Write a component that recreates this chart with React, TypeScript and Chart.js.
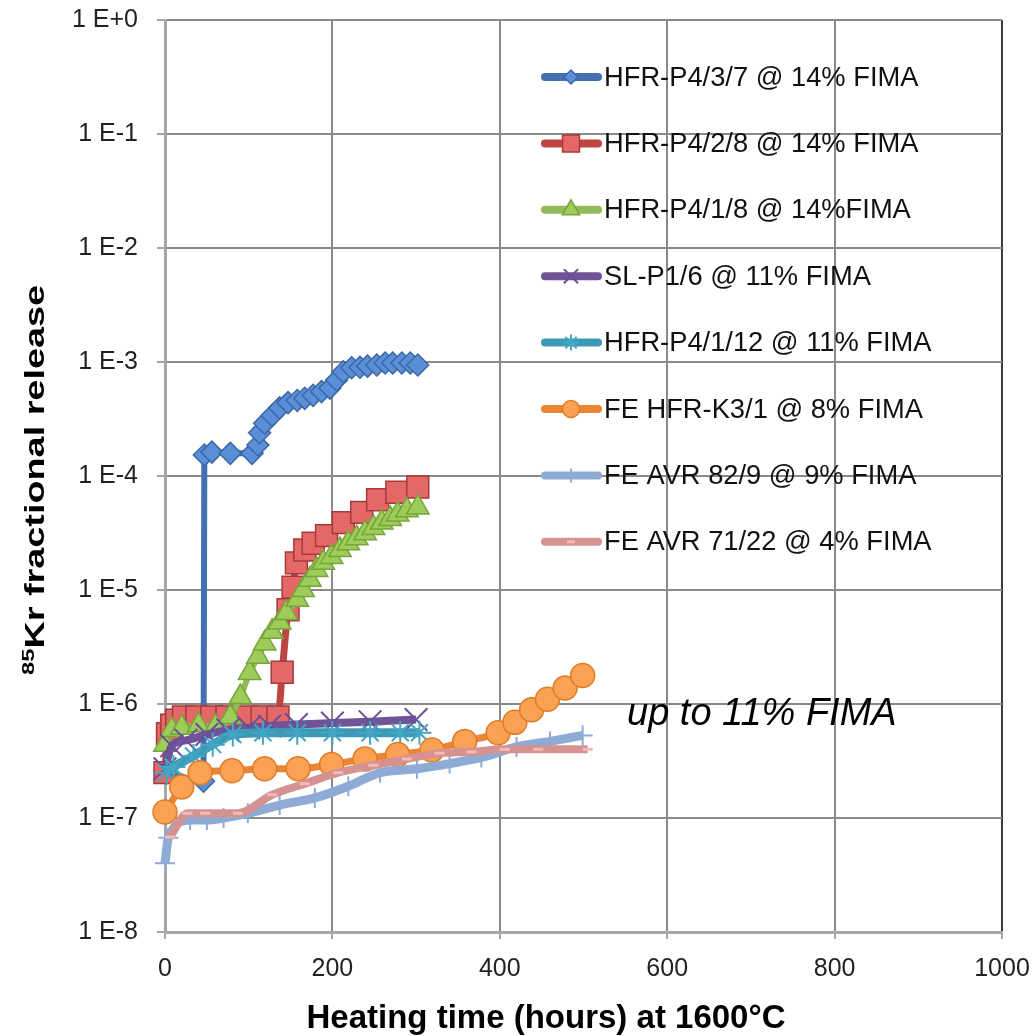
import React, { useEffect, useRef } from 'react';
import { Chart, registerables } from 'chart.js';
import { drawPoint } from 'chart.js/helpers';

Chart.register(...registerables);

const FONT = '"Liberation Sans", Arial, sans-serif';

// ---- Data (hours, fractional release) ----
const seriesLabels = [
  'HFR-P4/3/7 @ 14% FIMA',
  'HFR-P4/2/8 @ 14% FIMA',
  'HFR-P4/1/8 @ 14%FIMA',
  'SL-P1/6 @ 11% FIMA',
  'HFR-P4/1/12 @ 11% FIMA',
  'FE HFR-K3/1 @ 8% FIMA',
  'FE AVR 82/9 @ 9% FIMA',
  'FE AVR 71/22 @ 4% FIMA',
];

const blueX = [0, 46, 47, 56, 78, 104, 111, 113, 119, 128, 137, 147, 158, 167, 177, 187, 197, 205, 213, 223, 233, 242, 253, 263, 272, 283, 293, 302];
const blueY = [2.6e-7, 2.1e-7, 1.53e-4, 1.62e-4, 1.58e-4, 1.58e-4, 1.87e-4, 2.4e-4, 2.9e-4, 3.4e-4, 3.96e-4, 4.4e-4, 4.6e-4, 4.8e-4, 5.1e-4, 5.5e-4, 5.9e-4, 6.95e-4, 8.2e-4, 8.9e-4, 9.0e-4, 9.2e-4, 9.4e-4, 9.8e-4, 9.8e-4, 9.8e-4, 9.8e-4, 9.4e-4];

const redX = [0, 3, 8, 14, 22, 38, 56, 74, 98, 116, 135, 140, 147, 153, 157, 167, 177, 193, 213, 235, 254, 277, 302];
const redY = [2.5e-7, 5.5e-7, 6.5e-7, 7.2e-7, 7.7e-7, 7.7e-7, 7.7e-7, 7.7e-7, 7.7e-7, 7.7e-7, 7.7e-7, 1.9e-6, 6.7e-6, 1.06e-5, 1.73e-5, 2.24e-5, 2.57e-5, 3.0e-5, 3.9e-5, 4.8e-5, 6.2e-5, 7.2e-5, 8.0e-5];

const greenX = [0, 8, 20, 40, 60, 78, 90, 101, 111, 119, 128, 137, 145, 158, 165, 173, 181, 189, 199, 209, 219, 229, 239, 249, 259, 269, 278, 289, 302];
const greenY = [4.4e-7, 5.9e-7, 6.2e-7, 6.5e-7, 6.3e-7, 7.7e-7, 1.15e-6, 1.87e-6, 2.6e-6, 3.4e-6, 4.3e-6, 5.2e-6, 6.3e-6, 8.2e-6, 1.0e-5, 1.23e-5, 1.5e-5, 1.73e-5, 1.95e-5, 2.24e-5, 2.57e-5, 2.85e-5, 3.15e-5, 3.5e-5, 3.9e-5, 4.2e-5, 4.6e-5, 5.0e-5, 5.3e-5];

const purpleX = [0, 8, 25, 50, 75, 100, 125, 157, 200, 245, 300];
const purpleY = [2.7e-7, 4.3e-7, 4.8e-7, 5.4e-7, 5.9e-7, 6.2e-7, 6.4e-7, 6.6e-7, 6.8e-7, 7.0e-7, 7.3e-7];

const tealX = [2, 10, 34, 57, 81, 117, 158, 200, 245, 281, 304];
const tealY = [2.5e-7, 2.8e-7, 3.5e-7, 4.4e-7, 5.4e-7, 5.6e-7, 5.6e-7, 5.6e-7, 5.6e-7, 5.6e-7, 5.6e-7];

const orangeX = [0, 20, 42, 80, 119, 159, 199, 239, 278, 319, 358, 398, 418, 438, 457, 478, 499];
const orangeY = [1.13e-7, 1.87e-7, 2.5e-7, 2.6e-7, 2.7e-7, 2.7e-7, 2.95e-7, 3.3e-7, 3.6e-7, 3.95e-7, 4.7e-7, 5.6e-7, 6.9e-7, 8.9e-7, 1.1e-6, 1.38e-6, 1.78e-6];

const lightBlueX = [0, 4, 30, 50, 70, 99, 137, 179, 219, 257, 301, 340, 378, 420, 460, 499];
const lightBlueY = [4.0e-8, 6.7e-8, 9.6e-8, 9.6e-8, 1.0e-7, 1.1e-7, 1.3e-7, 1.5e-7, 1.9e-7, 2.5e-7, 2.7e-7, 3.0e-7, 3.4e-7, 4.2e-7, 4.7e-7, 5.3e-7];

const pinkX = [6, 27, 48, 87, 128, 167, 207, 249, 289, 328, 366, 406, 446, 505];
const pinkY = [6.8e-8, 1.1e-7, 1.1e-7, 1.1e-7, 1.6e-7, 2.0e-7, 2.5e-7, 2.9e-7, 3.3e-7, 3.7e-7, 3.8e-7, 4.0e-7, 4.0e-7, 4.0e-7];

const xTickValues = [0, 200, 400, 600, 800, 1000];
const xTickLabels = ['0', '200', '400', '600', '800', '1000'];
const yTickValues = [1e-8, 1e-7, 1e-6, 1e-5, 1e-4, 1e-3, 1e-2, 1e-1, 1];
const yTickLabels = ['1 E-8', '1 E-7', '1 E-6', '1 E-5', '1 E-4', '1 E-3', '1 E-2', '1 E-1', '1 E+0'];

const xTitle = 'Heating time (hours) at 1600°C';
const yTitleSup = '85';
const yTitleMain = 'Kr fractional release';
const annotationText = 'up to 11% FIMA';
const annotationAt = { x: 552, y: 6.5e-7 };

const seriesX = [blueX, redX, greenX, purpleX, tealX, orangeX, lightBlueX, pinkX];
const seriesY = [blueY, redY, greenY, purpleY, tealY, orangeY, lightBlueY, pinkY];

// ---- Styles ----
const STYLES = [
  { line: '#4470b0', width: 6, style: 'rectRot', r: 11, lr: 7, fill: '#5a8fd8', border: '#3c68a5', bw: 1.5 },
  { line: '#bd4542', width: 7, style: 'rect', r: 15.5, lr: 12, fill: '#e46966', border: '#a8393a', bw: 1.5 },
  { line: '#93b958', width: 6, style: 'triangle', r: 13, lr: 10, fill: '#9dcd58', border: '#78a33d', bw: 1.5 },
  { line: '#6f5497', width: 8, style: 'crossRot', r: 16, lr: 10, fill: '#6a4f98', border: '#6a4f98', bw: 2 },
  { line: '#3c9ab7', width: 9, style: 'star', r: 12, lr: 8, fill: '#41a7c4', border: '#41a7c4', bw: 2 },
  { line: '#ea8535', width: 7, style: 'circle', r: 12, lr: 8.5, fill: '#f9a253', border: '#e27b25', bw: 1.5 },
  { line: '#8eabd6', width: 9, style: 'cross', r: 10, lr: 7, fill: '#8eabd6', border: '#8eabd6', bw: 2 },
  { line: '#d69291', width: 8, style: 'line', r: 5, lr: 4, fill: '#f3b9b7', border: '#f3b9b7', bw: 3 },
];

const overlayPlugin = {
  id: 'overlay',
  afterDraw(chart: any) {
    const ctx: CanvasRenderingContext2D = chart.ctx;
    const xs = chart.scales.x;
    const ys = chart.scales.y;
    ctx.save();

    // legend
    STYLES.forEach((s, i) => {
      const y = 77 + 66.4 * i;
      ctx.strokeStyle = s.line;
      ctx.lineWidth = 8;
      ctx.lineCap = 'round';
      ctx.beginPath();
      ctx.moveTo(545, y);
      ctx.lineTo(598, y);
      ctx.stroke();
      ctx.lineCap = 'butt';
      ctx.fillStyle = s.fill;
      ctx.strokeStyle = s.border;
      ctx.lineWidth = s.bw;
      drawPoint(ctx, { pointStyle: s.style as any, radius: s.lr, rotation: 0, borderWidth: s.bw }, 571, y);
      ctx.fillStyle = '#111';
      ctx.font = `27.3px ${FONT}`;
      ctx.textAlign = 'left';
      ctx.textBaseline = 'middle';
      ctx.fillText(seriesLabels[i], 604, y + 1);
    });

    // annotation
    ctx.fillStyle = '#000';
    ctx.font = `italic 38px ${FONT}`;
    ctx.textAlign = 'left';
    ctx.textBaseline = 'alphabetic';
    ctx.fillText(annotationText, xs.getPixelForValue(annotationAt.x), ys.getPixelForValue(annotationAt.y));

    // x title
    ctx.font = `bold 33px ${FONT}`;
    ctx.textAlign = 'center';
    ctx.fillText(xTitle, 546, 1028);

    // y title (rotated)
    ctx.save();
    ctx.translate(44, 480);
    ctx.rotate(-Math.PI / 2);
    ctx.font = `bold 17px ${FONT}`;
    const w1 = ctx.measureText(yTitleSup).width;
    ctx.font = `bold 27px ${FONT}`;
    const w2 = ctx.measureText(yTitleMain).width;
    const sx = 390 / (w1 + w2);
    ctx.scale(sx, 1);
    const x0 = -(w1 + w2) / 2;
    ctx.textAlign = 'left';
    ctx.font = `bold 17px ${FONT}`;
    ctx.fillText(yTitleSup, x0, -10);
    ctx.font = `bold 27px ${FONT}`;
    ctx.fillText(yTitleMain, x0 + w1, 0);
    ctx.restore();

    ctx.restore();
  },
};

export default function App() {
  const ref = useRef<HTMLCanvasElement>(null);
  useEffect(() => {
    const datasets = seriesLabels.map((label, i) => {
      const s = STYLES[i];
      return {
        label,
        data: seriesX[i].map((x, j) => ({ x, y: seriesY[i][j] })),
        borderColor: s.line,
        backgroundColor: s.fill,
        borderWidth: s.width,
        pointStyle: s.style,
        pointRadius: s.r,
        pointBackgroundColor: s.fill,
        pointBorderColor: s.border,
        pointBorderWidth: s.bw,
        cubicInterpolationMode: 'monotone',
        fill: false,
        clip: false,
        order: seriesLabels.length - i,
      };
    });
    const chart = new Chart(ref.current!, {
      type: 'line',
      data: { datasets } as any,
      plugins: [overlayPlugin],
      options: {
        animation: false,
        responsive: false,
        maintainAspectRatio: false,
        layout: { padding: { top: 20, right: 34, left: 0, bottom: 0 } },
        plugins: { legend: { display: false }, tooltip: { enabled: false } },
        scales: {
          x: {
            type: 'linear',
            position: 'bottom',
            min: 0,
            max: 1000,
            afterBuildTicks: (s: any) => {
              s.ticks = xTickValues.map((v) => ({ value: v }));
            },
            afterFit: (s: any) => {
              s.height = 104;
              s.paddingLeft = 0;
              s.paddingRight = 0;
            },
            ticks: {
              font: { family: FONT, size: 25 },
              color: '#222',
              padding: 15,
              maxRotation: 0,
              autoSkip: false,
              callback: (v: any) => xTickLabels[xTickValues.indexOf(Number(v))] ?? '',
            },
            grid: {
              color: (c: any) => (c.tick && c.tick.value === 1000 ? '#3a3a3a' : c.tick && c.tick.value === 0 ? 'rgba(0,0,0,0)' : '#8a8a8a'),
              lineWidth: 2,
              tickLength: 7,
              tickColor: '#a6a6a6',
              tickWidth: 2,
            },
            border: { color: '#a6a6a6', width: 3 },
          },
          y: {
            type: 'logarithmic',
            position: 'left',
            min: 1e-8,
            max: 1,
            afterBuildTicks: (s: any) => {
              s.ticks = yTickValues.map((v) => ({ value: v }));
            },
            afterFit: (s: any) => {
              s.width = 165;
              s.paddingTop = 0;
              s.paddingBottom = 0;
            },
            ticks: {
              font: { family: FONT, size: 25 },
              color: '#222',
              padding: 19,
              autoSkip: false,
              callback: (v: any) => yTickLabels[yTickValues.indexOf(Number(v))] ?? '',
            },
            grid: {
              color: (c: any) => (c.tick && c.tick.value === 1e-8 ? 'rgba(0,0,0,0)' : '#8a8a8a'),
              lineWidth: 2,
              tickLength: 8,
              tickColor: '#a6a6a6',
              tickWidth: 2,
            },
            border: { color: '#a6a6a6', width: 3 },
          },
        },
      } as any,
    });
    return () => chart.destroy();
  }, []);
  return (
    <div style={{ position: 'fixed', left: 0, top: 0, width: 1036, height: 1036, background: '#fff' }}>
      <canvas ref={ref} width={1036} height={1036} style={{ display: 'block', width: 1036, height: 1036 }} />
    </div>
  );
}
